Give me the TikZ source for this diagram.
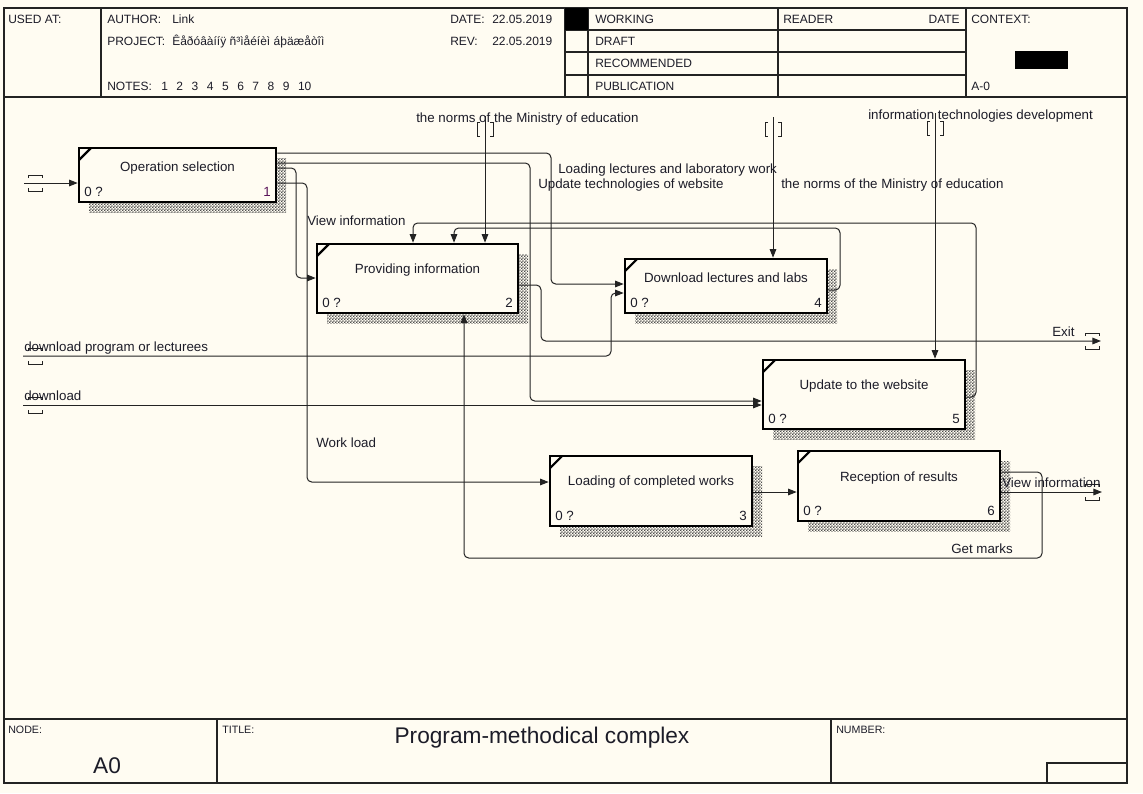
\documentclass[tikz,border=0pt]{standalone}
\usepackage{fontspec}
\setmainfont{Liberation Sans}
\usetikzlibrary{arrows.meta,patterns.meta,fit,calc}
\definecolor{bg}{RGB}{255,252,242}
\definecolor{ink}{RGB}{28,28,40}
\definecolor{ln}{RGB}{35,35,35}
\definecolor{numpurple}{RGB}{90,20,90}
\tikzdeclarepattern{
  name=shadechk,
  type=uncolored,
  bounding box={(0pt,0pt) and (2.4pt,2.4pt)},
  tile size={(2.4pt,2.4pt)},
  code={\pgfpathrectangle{\pgfpoint{0pt}{0pt}}{\pgfpoint{1.2pt}{1.2pt}}%
        \pgfpathrectangle{\pgfpoint{1.2pt}{1.2pt}}{\pgfpoint{1.2pt}{1.2pt}}%
        \pgfusepath{fill}}
}
\tikzset{
  lbl/.style={anchor=base west, inner sep=0pt, font=\fontsize{10}{12}\selectfont, text=ink},
  hdr/.style={anchor=base west, inner sep=0pt, font=\fontsize{9}{11}\selectfont, text=ink},
  boxtxt/.style={anchor=base, inner sep=0pt, font=\fontsize{10}{12}\selectfont, text=ink},
  boxnum/.style={inner sep=0pt, font=\fontsize{10}{12}\selectfont, text=ink},
  arr/.style={draw=ln, line width=0.75pt, rounded corners=3.5pt, -{Triangle[length=6.5pt,width=5pt]}},
  wire/.style={draw=ln, line width=0.75pt},
  abox/.style={draw=black, line width=2pt, fill=bg, inner sep=0pt},
  shadowbox/.style={pattern=shadechk, pattern color=black!70},
  frame/.style={draw=ln, line width=1.1pt},
}
% name, x0, y0, x1, y1, baseline offset, label, number
\newcommand{\ibox}[8]{%
  \fill[shadowbox] (#2+10,#3+10) rectangle (#4+10,#5+10);
  \node[abox, fit={(#2,#3) (#4,#5)}] (#1) {};
  \draw[black, line width=1.6pt] (#2,#3+12) -- (#2+12,#3);
  \node[boxtxt] (#1t) at ({(#2+#4)/2}, #3+#6) {#7};
  \node[boxnum, anchor=base west] (#1z) at (#2+5,#5-6) {0 ?};
  \node[boxnum, anchor=base east] (#1n) at (#4-5,#5-6) {#8};
}
\newcommand{\tunH}[2]{%
  \draw[wire] (#1-7,#2-5) -- (#1-7,#2-8) -- (#1+7,#2-8) -- (#1+7,#2-5);
  \draw[wire] (#1-7,#2+5) -- (#1-7,#2+8) -- (#1+7,#2+8) -- (#1+7,#2+5);}
\newcommand{\tunV}[2]{%
  \draw[wire] (#1-5,#2-7) -- (#1-8,#2-7) -- (#1-8,#2+7) -- (#1-5,#2+7);
  \draw[wire] (#1+5,#2-7) -- (#1+8,#2-7) -- (#1+8,#2+7) -- (#1+5,#2+7);}
\begin{document}
\begin{tikzpicture}[x=0.75pt,y=-0.75pt]
\useasboundingbox (0,0) rectangle (1143,793);
\fill[bg] (0,0) rectangle (1143,793);

% ---------- frame ----------
\draw[frame] (4,8) rectangle (1127,783);
\draw[frame] (4,97) -- (1127,97);
\draw[frame] (101,8) -- (101,97);
\draw[frame] (565,8) -- (565,97);
\draw[frame] (588,8) -- (588,97);
\draw[frame] (778,8) -- (778,97);
\draw[frame] (966,8) -- (966,97);
\foreach \yy in {30,52,75} \draw[frame] (565,\yy) -- (966,\yy);
\fill[black] (565,8) rectangle (588,30);
\fill[black] (1015,51) rectangle (1068,69);
\draw[frame] (4,719) -- (1127,719);
\draw[frame] (217,719) -- (217,783);
\draw[frame] (831,719) -- (831,783);
\draw[frame] (1047,763) rectangle (1127,783);

% ---------- header texts ----------
\node[hdr] (hused) at (8,23) {USED AT:};
\node[hdr] (hauth) at (107,23) {AUTHOR:};
\node[hdr] (hauthv) at (172,23) {Link};
\node[hdr] (hproj) at (107,45) {PROJECT:};
\node[hdr] (hprojv) at (172,45) {Êåðóâàííÿ ñ³ìåéíèì áþäæåòîì};
\node[hdr] (hnotes) at (107,90) {NOTES:};
\foreach \k [count=\i] in {1,2,3,4,5,6,7,8,9,10}
  \node[hdr] (hn\i) at ({161+(\i-1)*15.2},90) {\k};
\node[hdr] (hdate) at (450,23) {DATE:};
\node[hdr] (hdatev) at (492,23) {22.05.2019};
\node[hdr] (hrev) at (450,45) {REV:};
\node[hdr] (hrevv) at (492,45) {22.05.2019};
\node[hdr] (hwork) at (595,23) {WORKING};
\node[hdr] (hdraft) at (595,45) {DRAFT};
\node[hdr] (hrec) at (595,67) {RECOMMENDED};
\node[hdr] (hpub) at (595,90) {PUBLICATION};
\node[hdr] (hread) at (783,23) {READER};
\node[hdr, anchor=base east] (hrdate) at (960,23) {DATE};
\node[hdr] (hctx) at (971,23) {CONTEXT:};
\node[hdr] (hctxv) at (971,90) {A-0};

% ---------- bottom texts ----------
\node[hdr, font=\fontsize{8}{10}\selectfont] (fnode) at (8,733) {NODE:};
\node[anchor=base, inner sep=0pt, font=\fontsize{17}{20}\selectfont, text=ink] (fnodev) at (107,773) {A0};
\node[hdr, font=\fontsize{8}{10}\selectfont] (ftitle) at (222,733) {TITLE:};
\node[anchor=base, inner sep=0pt, font=\fontsize{17}{20}\selectfont, text=ink] (ftitlev) at (542,743) {Program-methodical complex};
\node[hdr, font=\fontsize{8}{10}\selectfont] (fnum) at (836,733) {NUMBER:};

% ---------- boxes ----------
\ibox{b1}{79}{148}{276}{202}{23}{Operation selection}{\textcolor{numpurple}{1}}
\ibox{b2}{317}{244}{518}{313}{29}{Providing information}{2}
\ibox{b4}{625}{259}{827}{313}{23}{Download lectures and labs}{4}
\ibox{b5}{763}{360}{965}{429}{29}{Update to the website}{5}
\ibox{b3}{550}{456}{752}{526}{29}{Loading of completed works}{3}
\ibox{b6}{798}{451}{1000}{521}{30}{Reception of results}{6}

% ---------- free ends ----------
\coordinate (in1) at (24,183);
\coordinate (d1) at (23,356);
\coordinate (d2) at (23,405);
\coordinate (exit) at (1101,341);
\coordinate (vout) at (1102,492);
\coordinate (n1) at (485,116);
\coordinate (n2) at (773,117);
\coordinate (n3) at (935,113);

% ---------- connectors ----------
\draw[arr] (in1) -- (b1.west |- 0,183);
\draw[arr] (b1.east |- 0,153) -- (551,153) -- (551,284) -- (b4.west |- 0,284);
\draw[arr] (b1.east |- 0,163) -- (530,163) -- (530,401) -- (b5.west |- 0,401);
\draw[arr] (b1.east |- 0,168) -- (296,168) -- (296,278) -- (b2.west |- 0,278);
\draw[arr] (b1.east |- 0,183) -- (307,183) -- (307,482) -- (b3.west |- 0,482);
\draw[arr] (b2.east |- 0,285) -- (541,285) -- (541,341) -- (exit);
\draw[arr] (b4.east |- 0,290) -- (840,290) -- (840,228) -- (454,228) -- (b2.north -| 454,0);
\draw[arr] (b5.east |- 0,397) -- (976,397) -- (976,223) -- (413,223) -- (b2.north -| 413,0);
\draw[arr] (n1) -- (b2.north -| n1);
\draw[arr] (n2) -- (b4.north -| n2);
\draw[arr] (n3) -- (b5.north -| n3);
\draw[arr] (d1) -- (611,356) -- (611,293) -- (b4.west |- 0,293);
\draw[arr] (d2) -- (b5.west |- 0,405);
\draw[arr] (b3.east |- 0,492) -- (b6.west |- 0,492);
\draw[arr] (b6.east |- 0,492) -- (vout);
\draw[arr] (b6.east |- 0,472) -- (1042,472) -- (1042,558) -- (464,558) -- (b2.south -| 464,0);

% ---------- tunnels ----------
\tunH{35}{183}
\tunH{35}{356}
\tunH{35}{405}
\tunH{1092}{341}
\tunH{1092}{492}
\tunV{485}{129}
\tunV{773}{129}
\tunV{935}{128}

% ---------- arrow labels ----------
\node[lbl] (l1) at (416,122) {the norms of the Ministry of education};
\node[lbl] (l2) at (781,188) {the norms of the Ministry of education};
\node[lbl] (l3) at (868,119) {information technologies development};
\node[lbl] (l4) at (558,173) {Loading lectures and laboratory work};
\node[lbl] (l5) at (538,188) {Update technologies of website};
\node[lbl] (l6) at (307,225) {View information};
\node[lbl] (l7) at (24,351) {download program or lecturees};
\node[lbl] (l8) at (24,400) {download};
\node[lbl] (l9) at (316,447) {Work load};
\node[lbl] (l10) at (1052,336) {Exit};
\node[lbl] (l11) at (1002,487) {View information};
\node[lbl] (l12) at (951,553) {Get marks};
\end{tikzpicture}
\end{document}
